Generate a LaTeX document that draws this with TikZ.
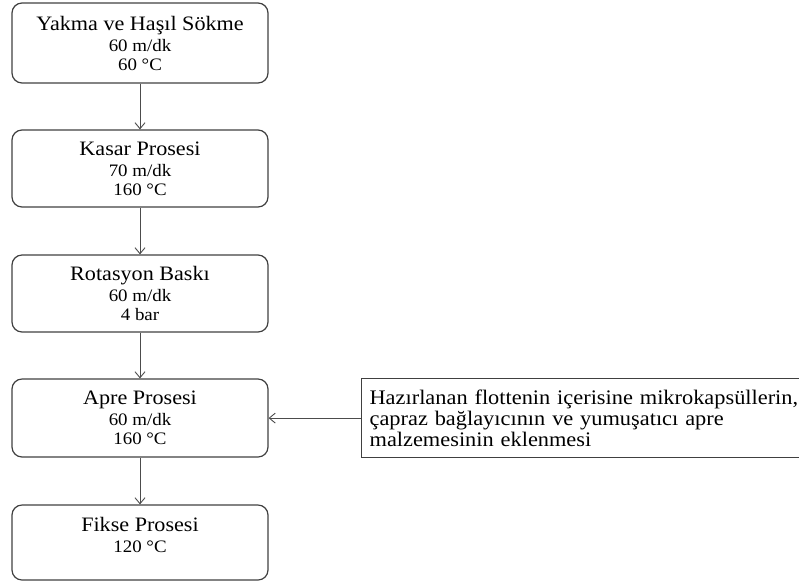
\documentclass[tikz,border=0pt]{standalone}
\usepackage{fontspec}
\setmainfont{Liberation Serif}[FakeStretch=1.08]
\usetikzlibrary{arrows.meta, positioning}

\newcommand{\steptitle}[1]{{\fontsize{20.5}{20}\selectfont #1}}

\tikzset{
    process/.style={draw=black!75, line width=1.2pt, rounded corners=10pt,
        minimum width=256pt, minimum height=77pt, align=center, inner sep=0pt,
        font=\fontsize{17.5}{19}\selectfont},
    notebox/.style={draw=black!75, line width=1.2pt, anchor=north west,
        text width=443pt, minimum height=79pt, inner xsep=8pt, align=left,
        font=\fontsize{20.7}{21}\selectfont},
    flow/.style={draw=black!70, line width=0.9pt,
        -{Straight Barb[length=6pt,width=10pt]}}
}

\begin{document}
\begin{tikzpicture}[x=1pt, y=-1pt]
    \useasboundingbox (0,0) rectangle (799,582);
    \clip (0,0) rectangle (799,582);

    % Process steps
    \node[process, minimum height=80pt] (yakma) at (140,43)
        {\steptitle{Yakma ve Haşıl Sökme}\\[2pt]60 m/dk\\60 °C};
    \node[process] (kasar) at (140,168.5)
        {\steptitle{Kasar Prosesi}\\[2pt]70 m/dk\\160 °C};
    \node[process] (baski) at (140,293.5)
        {\steptitle{Rotasyon Baskı}\\[2pt]60 m/dk\\4 bar};
    \node[process, minimum height=78pt] (apre) at (140,418)
        {\steptitle{Apre Prosesi}\\[2pt]60 m/dk\\160 °C};
    \node[process, minimum height=75pt, text depth=16pt] (fikse) at (140,542.5)
        {\steptitle{Fikse Prosesi}\\[2pt]120 °C};

    % Finishing liquor note
    \node[notebox] (flotte) at (361,378)
        {Hazırlanan flottenin içerisine mikrokapsüllerin,\\
         çapraz bağlayıcının ve yumuşatıcı apre\\
         malzemesinin eklenmesi};

    % Arrows
    \draw[flow] (yakma) -- (kasar);
    \draw[flow] (kasar) -- (baski);
    \draw[flow] (baski) -- (apre);
    \draw[flow] (apre) -- (fikse);
    \draw[flow] (flotte.west) -- (flotte.west -| apre.east);
\end{tikzpicture}
\end{document}
